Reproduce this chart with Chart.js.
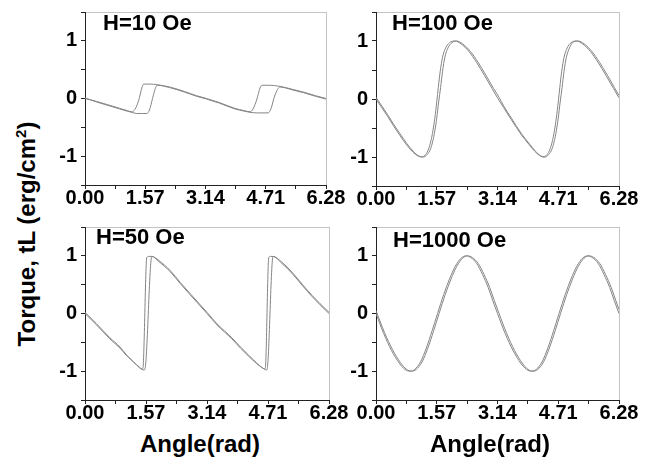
<!DOCTYPE html>
<html>
<head>
<meta charset="utf-8">
<script src="https://cdn.jsdelivr.net/npm/chart.js@4.4.1/dist/chart.umd.min.js"></script>
<style>
  body { margin: 0; background: #fff; }
  #wrap { position: relative; width: 655px; height: 467px; overflow: hidden;
          font-family: Arial, "Liberation Sans", sans-serif; }
  #wrap canvas { position: absolute; }
  .lbl { position: absolute; font-weight: bold; font-size: 22px; line-height: 22px;
         white-space: nowrap; color: #000; }
  .title { font-size: 24px; line-height: 24px; }
</style>
</head>
<body>
<div id="wrap">
  <canvas id="c10" width="320" height="215" style="left:40px;top:0px"></canvas>
  <canvas id="c100" width="324" height="215" style="left:331px;top:0px"></canvas>
  <canvas id="c50" width="320" height="215" style="left:40px;top:215px"></canvas>
  <canvas id="c1000" width="324" height="215" style="left:331px;top:215px"></canvas>

  <div class="lbl" style="left:103px;top:12px">H=10 Oe</div>
  <div class="lbl" style="left:392px;top:12px">H=100 Oe</div>
  <div class="lbl" style="left:96px;top:226px">H=50 Oe</div>
  <div class="lbl" style="left:393px;top:229px">H=1000 Oe</div>

  <div class="lbl title" style="left:27px;top:234px;transform:translate(-50%,-50%) rotate(-90deg)">Torque, tL (erg/cm<sup style="font-size:15px;line-height:0">2</sup>)</div>
  <div class="lbl title" style="left:200px;top:432px;transform:translateX(-50%)">Angle(rad)</div>
  <div class="lbl title" style="left:490px;top:432px;transform:translateX(-50%)">Angle(rad)</div>
</div>
<script>
// tick positions
const xMajorTicks = [0, 1.57, 3.14, 4.71, 6.28];
const xMinorTicks = [0.785, 2.355, 3.925, 5.495];
const yMajorTicks = [-1, 0, 1];
const yMinorTicks = [-1.5, -0.5, 0.5, 1.5];

// H=10 Oe, two sweep branches
const h10AngleA  = [0, 0.3, 0.6, 0.9, 1.1, 1.22, 1.3, 1.4, 1.48, 1.53, 1.7, 1.87, 2.2, 2.6, 2.9, 3.17, 3.5, 3.9, 4.15, 4.3, 4.38, 4.48, 4.56, 4.61, 4.8, 5.08, 5.4, 5.7, 6.0, 6.28];
const h10TorqueA = [0, -0.05, -0.11, -0.17, -0.21, -0.23, -0.19, -0.03, 0.18, 0.25, 0.25, 0.24, 0.2, 0.12, 0.05, 0.0, -0.07, -0.17, -0.21, -0.23, -0.18, -0.01, 0.18, 0.23, 0.23, 0.21, 0.16, 0.11, 0.05, 0.0];
const h10AngleB  = [0, 0.3, 0.6, 0.9, 1.1, 1.22, 1.35, 1.5, 1.61, 1.68, 1.76, 1.83, 1.88, 2.2, 2.6, 2.9, 3.17, 3.5, 3.9, 4.15, 4.3, 4.5, 4.77, 4.85, 4.93, 5.02, 5.08, 5.4, 5.7, 6.0, 6.28];
const h10TorqueB = [0.01, -0.06, -0.12, -0.18, -0.22, -0.24, -0.26, -0.26, -0.26, -0.2, 0.0, 0.17, 0.23, 0.19, 0.11, 0.04, -0.01, -0.08, -0.18, -0.22, -0.24, -0.25, -0.25, -0.17, 0.02, 0.16, 0.2, 0.15, 0.1, 0.04, -0.01];

// H=100 Oe
const h100AngleA  = [0, 0.15, 0.3, 0.45, 0.62, 0.8, 0.96, 1.08, 1.18, 1.28, 1.36, 1.42, 1.47, 1.52, 1.57, 1.61, 1.66, 1.72, 1.8, 1.9, 2.04, 2.2, 2.4, 2.6, 2.8, 3.0, 3.14, 3.3, 3.5, 3.76, 3.95, 4.1, 4.22, 4.32, 4.42, 4.5, 4.56, 4.61, 4.66, 4.71, 4.75, 4.8, 4.86, 4.94, 5.04, 5.18, 5.34, 5.54, 5.74, 5.94, 6.14, 6.28];
const h100TorqueA = [0, -0.15, -0.3, -0.46, -0.63, -0.8, -0.92, -0.98, -1.0, -0.96, -0.86, -0.72, -0.55, -0.33, -0.05, 0.2, 0.48, 0.72, 0.88, 0.97, 1.0, 0.95, 0.82, 0.63, 0.41, 0.18, 0.02, -0.15, -0.36, -0.62, -0.78, -0.9, -0.97, -1.0, -0.96, -0.86, -0.72, -0.55, -0.33, -0.05, 0.2, 0.48, 0.72, 0.88, 0.97, 1.0, 0.95, 0.82, 0.63, 0.41, 0.18, 0.02];
const h100AngleB  = [0, 0.15, 0.3, 0.45, 0.62, 0.8, 0.96, 1.1, 1.22, 1.32, 1.41, 1.47, 1.52, 1.57, 1.62, 1.67, 1.72, 1.78, 1.86, 1.96, 2.08, 2.24, 2.44, 2.64, 2.84, 3.04, 3.18, 3.3, 3.5, 3.76, 3.95, 4.12, 4.26, 4.36, 4.46, 4.55, 4.61, 4.66, 4.71, 4.76, 4.81, 4.86, 4.92, 5.0, 5.08, 5.22, 5.38, 5.58, 5.78, 5.98, 6.16, 6.28];
const h100TorqueB = [0.03, -0.12, -0.27, -0.43, -0.6, -0.77, -0.9, -0.98, -1.0, -0.96, -0.86, -0.72, -0.55, -0.33, -0.05, 0.2, 0.48, 0.72, 0.88, 0.97, 1.0, 0.95, 0.82, 0.63, 0.41, 0.18, 0.03, -0.12, -0.33, -0.6, -0.76, -0.9, -0.98, -1.0, -0.96, -0.86, -0.72, -0.55, -0.33, -0.05, 0.2, 0.48, 0.72, 0.88, 0.97, 1.0, 0.95, 0.82, 0.63, 0.41, 0.2, 0.06];

// H=50 Oe
const h50AngleA  = [0, 0.3, 0.64, 0.9, 1.07, 1.25, 1.4, 1.47, 1.49, 1.59, 1.65, 1.72, 1.9, 2.2, 2.45, 2.7, 2.9, 3.14, 3.4, 3.78, 4.0, 4.21, 4.42, 4.56, 4.62, 4.64, 4.73, 4.78, 4.84, 5.05, 5.35, 5.6, 5.85, 6.05, 6.28];
const h50TorqueA = [0, -0.2, -0.44, -0.6, -0.73, -0.84, -0.93, -0.96, -0.95, 0.97, 0.99, 0.99, 0.9, 0.72, 0.52, 0.33, 0.18, 0.0, -0.2, -0.44, -0.6, -0.74, -0.87, -0.94, -0.96, -0.95, 0.97, 0.99, 0.99, 0.88, 0.68, 0.48, 0.29, 0.15, 0.0];
const h50AngleB  = [0, 0.3, 0.64, 0.9, 1.07, 1.25, 1.4, 1.47, 1.52, 1.545, 1.72, 1.9, 2.2, 2.45, 2.7, 2.9, 3.14, 3.4, 3.78, 4.0, 4.21, 4.42, 4.56, 4.63, 4.67, 4.69, 4.84, 5.05, 5.35, 5.6, 5.85, 6.05, 6.28];
const h50TorqueB = [0.02, -0.18, -0.42, -0.58, -0.72, -0.84, -0.94, -0.97, -0.98, -0.96, 0.99, 0.92, 0.74, 0.54, 0.35, 0.2, 0.02, -0.18, -0.42, -0.58, -0.72, -0.86, -0.94, -0.97, -0.98, -0.96, 0.99, 0.9, 0.7, 0.5, 0.31, 0.17, 0.02];

// H=1000 Oe
const h1000AngleA  = [0, 0.2, 0.4, 0.6, 0.75, 0.88, 1.0, 1.15, 1.3, 1.45, 1.59, 1.75, 1.9, 2.05, 2.2, 2.33, 2.45, 2.6, 2.75, 2.9, 3.02, 3.14, 3.34, 3.54, 3.74, 3.89, 4.02, 4.14, 4.29, 4.44, 4.59, 4.73, 4.89, 5.04, 5.19, 5.34, 5.47, 5.59, 5.74, 5.89, 6.04, 6.16, 6.28];
const h1000TorqueA = [0, -0.35, -0.64, -0.86, -0.97, -1.0, -0.97, -0.84, -0.6, -0.3, 0.0, 0.33, 0.6, 0.82, 0.96, 1.0, 0.97, 0.87, 0.68, 0.45, 0.22, 0.0, -0.35, -0.64, -0.86, -0.97, -1.0, -0.97, -0.84, -0.6, -0.3, 0.0, 0.33, 0.6, 0.82, 0.96, 1.0, 0.97, 0.87, 0.68, 0.45, 0.22, 0.0];
const h1000AngleB  = [0, 0.22, 0.43, 0.63, 0.79, 0.92, 1.04, 1.19, 1.34, 1.49, 1.63, 1.79, 1.94, 2.09, 2.24, 2.37, 2.49, 2.64, 2.79, 2.94, 3.06, 3.18, 3.38, 3.58, 3.78, 3.93, 4.06, 4.18, 4.33, 4.48, 4.63, 4.77, 4.93, 5.08, 5.23, 5.38, 5.51, 5.63, 5.78, 5.93, 6.08, 6.2, 6.28];
const h1000TorqueB = [0.05, -0.33, -0.63, -0.85, -0.97, -1.0, -0.97, -0.84, -0.6, -0.3, 0.0, 0.33, 0.6, 0.82, 0.96, 1.0, 0.97, 0.87, 0.68, 0.45, 0.22, 0.0, -0.35, -0.64, -0.86, -0.97, -1.0, -0.97, -0.84, -0.6, -0.3, 0.0, 0.33, 0.6, 0.82, 0.96, 1.0, 0.97, 0.87, 0.68, 0.45, 0.22, 0.07];

const LINE_COLOR = "#858585";
const AXIS_COLOR = "#222";
const FRAME_COLOR = "#c4c4c4";
const TICK_FONT = { family: 'Arial, "Liberation Sans", sans-serif', size: 20, weight: "bold" };

const xTickValues = [...xMajorTicks, ...xMinorTicks].sort((a, b) => a - b);
const yTickValues = [...yMajorTicks, ...yMinorTicks].sort((a, b) => a - b);

// light grey box round the plot area, axes draw over left/bottom
const framePlugin = {
    id: "frame",
    beforeDraw(chart) {
        const { ctx, chartArea: a } = chart;
        ctx.save();
        ctx.strokeStyle = FRAME_COLOR;
        ctx.lineWidth = 1;
        ctx.strokeRect(Math.round(a.left) + 0.5, Math.round(a.top) + 0.5,
                       Math.round(a.right - a.left), Math.round(a.bottom - a.top));
        ctx.restore();
    },
};

function toPoints(xs, ys) {
    return xs.map((x, i) => ({ x: x, y: ys[i] }));
}

function branch(xs, ys) {
    return {
        data: toPoints(xs, ys),
        showLine: true,
        borderColor: LINE_COLOR,
        borderWidth: 1,
        pointRadius: 0,
        cubicInterpolationMode: "monotone",
    };
}

function makePanel(id, layout, branches) {
    const ctx = document.getElementById(id).getContext("2d");
    return new Chart(ctx, {
        type: "scatter",
        data: { datasets: branches },
        plugins: [framePlugin],
        options: {
            responsive: false,
            animation: false,
            events: [],
            layout: { padding: { left: 0, top: layout.padTop, right: layout.padRight, bottom: 0 } },
            plugins: { legend: { display: false }, tooltip: { enabled: false } },
            scales: {
                x: {
                    type: "linear", min: 0, max: 6.28,
                    afterBuildTicks: s => { s.ticks = xTickValues.map(v => ({ value: v })); },
                    afterFit: s => { s.height = layout.xAxisH; s.paddingLeft = 0; s.paddingRight = 0; },
                    ticks: {
                        autoSkip: false, maxRotation: 0, padding: -3, color: "#000", font: TICK_FONT,
                        callback: v => xMajorTicks.includes(v) ? v.toFixed(2) : "",
                    },
                    grid: { drawOnChartArea: false, tickLength: 4, color: AXIS_COLOR },
                    border: { color: AXIS_COLOR, width: 1 },
                },
                y: {
                    type: "linear", min: -1.5, max: 1.5,
                    afterBuildTicks: s => { s.ticks = yTickValues.map(v => ({ value: v })); },
                    afterFit: s => { s.width = layout.yAxisW; s.paddingTop = 0; s.paddingBottom = 0; },
                    ticks: {
                        autoSkip: false, padding: 4, color: "#000", font: TICK_FONT,
                        callback: v => yMajorTicks.includes(v) ? String(v) : "",
                    },
                    grid: { drawOnChartArea: false, tickLength: 4, color: AXIS_COLOR },
                    border: { color: AXIS_COLOR, width: 1 },
                },
            },
        },
    });
}

makePanel("c10", { padTop: 12, padRight: 34, xAxisH: 30, yAxisW: 45 }, [
    branch(h10AngleA, h10TorqueA),
    branch(h10AngleB, h10TorqueB),
]);
makePanel("c100", { padTop: 12, padRight: 36, xAxisH: 29, yAxisW: 45 }, [
    branch(h100AngleA, h100TorqueA),
    branch(h100AngleB, h100TorqueB),
]);
makePanel("c50", { padTop: 12, padRight: 31, xAxisH: 30, yAxisW: 45 }, [
    branch(h50AngleA, h50TorqueA),
    branch(h50AngleB, h50TorqueB),
]);
makePanel("c1000", { padTop: 12, padRight: 36, xAxisH: 30, yAxisW: 45 }, [
    branch(h1000AngleA, h1000TorqueA),
    branch(h1000AngleB, h1000TorqueB),
]);
</script>
</body>
</html>
